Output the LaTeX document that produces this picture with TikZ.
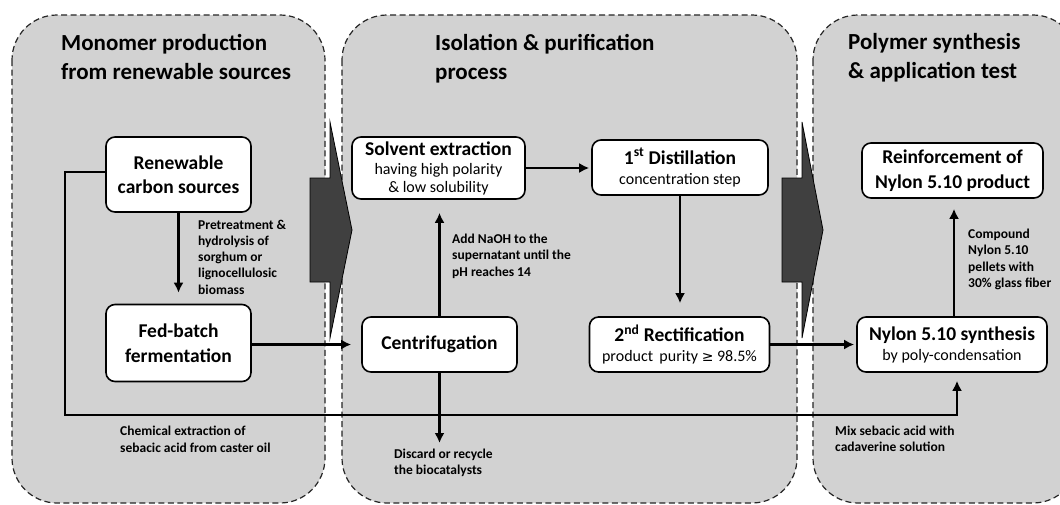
\documentclass[tikz,border=0pt]{standalone}
\usepackage{fontspec}
\setmainfont{Carlito}
\newfontfamily\symfnt{DejaVu Sans}
\usetikzlibrary{arrows.meta}
\definecolor{panelgray}{HTML}{D2D2D2}
\definecolor{bigarrow}{HTML}{404040}
\newcommand{\bigln}[1]{{\fontsize{19.5}{22}\selectfont\bfseries #1}}
\begin{document}
\begin{tikzpicture}[x=1pt,y=-1pt,
  panel/.style={draw=black!85, fill=panelgray, dash pattern=on 6pt off 3.5pt, line width=1.2pt, rounded corners=45pt},
  procbox/.style={draw=black, fill=white, line width=1.6pt, rounded corners=9pt, align=center, inner sep=2pt},
  mainfnt/.style={font=\fontsize{19.5}{24.5}\selectfont\bfseries},
  subfnt/.style={font=\fontsize{16}{18}\selectfont},
  title/.style={anchor=north west, align=left, inner sep=0pt, font=\fontsize{23}{29.5}\selectfont\bfseries},
  lbl/.style={anchor=north west, align=left, inner sep=0pt, font=\fontsize{13.5}{16.3}\selectfont\bfseries},
  conn/.style={line width=2.5pt, -{Latex[length=10pt,width=10pt]}},
  bigarr/.style={draw=black, fill=bigarrow, line width=0.8pt, line join=miter}
]
\useasboundingbox (0,0) rectangle (1060,504);
\fill[white] (0,0) rectangle (1060,504);
% panels
\path[panel] (12,15) rectangle (325,503);
\path[panel] (342,15) rectangle (797,503);
\path[panel] (813,15) rectangle (1078,503);
% titles
\node[title] (t1) at (61,34) {Monomer production\\from renewable sources};
\node[title] (t2) at (435,34) {Isolation \& purification\\process};
\node[title] (t3) at (848,33) {Polymer synthesis\\\& application test};
% big arrows
\path[bigarr] (310,178) -- (330,178) -- (330,122) -- (352,230) -- (330,338) -- (330,282) -- (310,282) -- cycle;
\path[bigarr] (782,178) -- (802,178) -- (802,122) -- (823,230) -- (802,338) -- (802,282) -- (782,282) -- cycle;
% process boxes
\node[procbox, mainfnt, minimum width=145pt, minimum height=75pt] (renew) at (178.5,174.5) {Renewable\\carbon sources};
\node[procbox, mainfnt, minimum width=145pt, minimum height=77pt] (fed) at (178.5,343) {Fed-batch\\fermentation};
\node[procbox, subfnt, minimum width=173pt, minimum height=62pt] (solv) at (438.5,168) {\bigln{Solvent extraction}\\[1pt]having high polarity\\\& low solubility};
\node[procbox, mainfnt, minimum width=155pt, minimum height=55pt] (centri) at (439.5,344.5) {Centrifugation};
\node[procbox, subfnt, minimum width=176pt, minimum height=55pt] (dist) at (680,167.5) {\bigln{1\textsuperscript{st} Distillation}\\[2pt]concentration step};
\node[procbox, subfnt, minimum width=180pt, minimum height=55pt] (rect) at (679.5,344.5) {\bigln{2\textsuperscript{nd} Rectification}\\[2pt]product\, purity {\symfnt\fontsize{14}{18}\selectfont ≥} 98.5\%};
\node[procbox, subfnt, minimum width=190pt, minimum height=55pt] (nyl) at (952,344.5) {\bigln{Nylon 5.10 synthesis}\\[2pt]by poly-condensation};
\node[procbox, mainfnt, minimum width=181pt, minimum height=55pt] (reinf) at (952.5,170.5) {Reinforcement of\\Nylon 5.10 product};
% connectors
\draw[conn, shorten >=11pt] (renew.south) -- (fed.north);
\draw[conn, shorten >=10pt] (fed.east |- centri.west) -- (centri.west);
\draw[conn, shorten >=13pt] (centri.north) -- (centri.north |- solv.south);
\coordinate (disc) at (439.5,443);
\draw[conn] (centri.south) -- (disc);
\draw[conn, shorten >=2pt] (solv.east) -- (solv.east -| dist.west);
\draw[conn, shorten >=13pt] (dist.south) -- (dist.south |- rect.north);
\draw[conn, shorten >=2pt] (rect.east) -- (rect.east -| nyl.west);
\draw[conn, shorten >=10pt] ([xshift=2pt]nyl.north) -- ([xshift=2pt]nyl.north |- reinf.south);
\coordinate (lp1) at (65,415);
\draw[conn, shorten >=8pt] (renew.west |- 0,172) -| (lp1) -| ([xshift=5pt]nyl.south);
% labels
\node[lbl] (l1) at (198,219.5) {Pretreatment \&\\hydrolysis of\\sorghum or\\lignocellulosic\\biomass};
\node[lbl] (l2) at (120,426) {Chemical extraction of\\sebacic acid from caster oil};
\node[lbl] (l3) at (452,234) {Add NaOH to the\\supernatant until the\\pH reaches 14};
\node[lbl] (l4) at (394,449) {Discard or recycle\\the biocatalysts};
\node[lbl] (l5) at (968,229) {Compound\\Nylon 5.10\\pellets with\\30\% glass fiber};
\node[lbl] (l6) at (835,426) {Mix sebacic acid with\\cadaverine solution};
\end{tikzpicture}
\end{document}
